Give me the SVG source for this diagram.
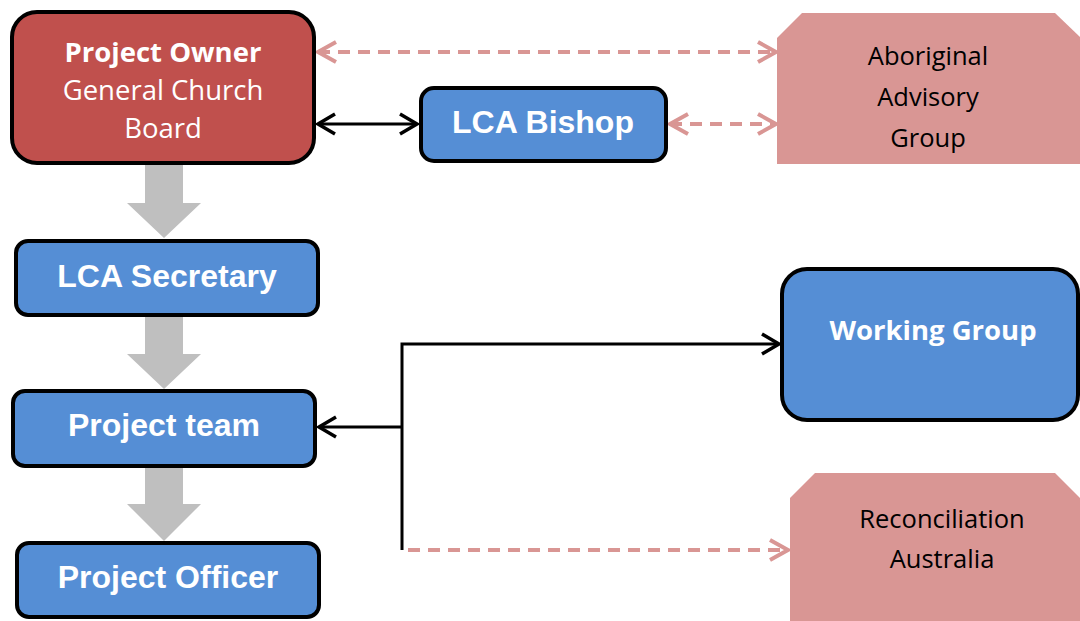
<svg xmlns="http://www.w3.org/2000/svg" width="1080" height="621" viewBox="0 0 1080 621">
<defs>
<style>
.box{stroke:#000;stroke-width:4}
.blue{fill:#558ED5}
.red{fill:#C0504D}
.pink{fill:#D99694}
.arial{font-family:"Liberation Sans",Arial,sans-serif;font-weight:bold;font-size:32px;fill:#fff;text-anchor:middle}
.cal{font-family:"Open Sans","Liberation Sans",sans-serif;font-size:25.5px;text-anchor:middle}
.calw{font-family:"Open Sans","Liberation Sans",sans-serif;font-size:27.5px;text-anchor:middle;fill:#fff}
.solid{stroke:#000;stroke-width:3;fill:none}
.dash{stroke:#D99694;stroke-width:4;fill:none;stroke-dasharray:12 8}
.gray{fill:#BFBFBF}
</style>
<marker id="ab" markerUnits="userSpaceOnUse" markerWidth="24" markerHeight="24" refX="18" refY="11" orient="auto-start-reverse" viewBox="0 0 24 22">
<path d="M1,1 L18,11 L1,21" fill="none" stroke="#000" stroke-width="3.5"/>
</marker>
<marker id="ap" markerUnits="userSpaceOnUse" markerWidth="24" markerHeight="24" refX="19" refY="11" orient="auto-start-reverse" viewBox="0 0 24 22">
<path d="M1,1 L19,11 L1,21" fill="none" stroke="#D99694" stroke-width="4"/>
</marker>
</defs>
<g id="connectors">
<path class="gray" d="M145,164 H183 V203 H201 L164,238 L127,203 H145 Z"/>
<path class="gray" d="M145,317 H183 V354 H201 L164,389 L127,354 H145 Z"/>
<path class="gray" d="M145,468 H183 V504 H201 L164,541 L127,504 H145 Z"/>
<line class="solid" x1="318" y1="124" x2="417" y2="124" marker-start="url(#ab)" marker-end="url(#ab)"/>
<line class="dash" x1="318" y1="52" x2="776" y2="52" marker-start="url(#ap)" marker-end="url(#ap)"/>
<line class="dash" x1="670" y1="124" x2="776" y2="124" marker-start="url(#ap)" marker-end="url(#ap)"/>
<polyline class="solid" points="402,550 402,344 779,344" marker-end="url(#ab)"/>
<line class="solid" x1="402" y1="427" x2="319" y2="427" marker-end="url(#ab)"/>
<line class="dash" x1="408" y1="550" x2="788" y2="550" marker-end="url(#ap)"/>
</g>
<g id="project-owner">
<rect class="box red" x="12" y="12" width="302" height="151" rx="25"/>
<text class="calw" x="163" y="62" font-weight="bold">Project Owner</text>
<text class="calw" x="163" y="100">General Church</text>
<text class="calw" x="163" y="138">Board</text>
</g>
<g id="lca-bishop">
<rect class="box blue" x="421" y="88" width="245" height="73" rx="13"/>
<text class="arial" x="543" y="133">LCA Bishop</text>
</g>
<g id="aboriginal-advisory-group">
<path class="pink" d="M777,38 L802,13 H1055 L1080,37 V164 H777 Z"/>
<text class="cal" x="928" y="65" fill="#000">Aboriginal</text>
<text class="cal" x="928" y="106" fill="#000">Advisory</text>
<text class="cal" x="928" y="147" fill="#000">Group</text>
</g>
<g id="lca-secretary">
<rect class="box blue" x="16" y="241" width="302" height="74" rx="12"/>
<text class="arial" x="167" y="287">LCA Secretary</text>
</g>
<g id="project-team">
<rect class="box blue" x="13" y="391" width="302" height="75" rx="12"/>
<text class="arial" x="164" y="436">Project team</text>
</g>
<g id="project-officer">
<rect class="box blue" x="17" y="543" width="302" height="74" rx="12"/>
<text class="arial" x="168" y="588">Project Officer</text>
</g>
<g id="working-group">
<rect class="box blue" x="782" y="269" width="296" height="151" rx="25"/>
<text class="calw" x="933" y="340" font-weight="bold">Working Group</text>
</g>
<g id="reconciliation-australia">
<path class="pink" d="M790,498 L815,473 H1055 L1080,498 V621 H790 Z"/>
<text class="cal" x="942" y="528" fill="#000">Reconciliation</text>
<text class="cal" x="942" y="568" fill="#000">Australia</text>
</g>
</svg>
